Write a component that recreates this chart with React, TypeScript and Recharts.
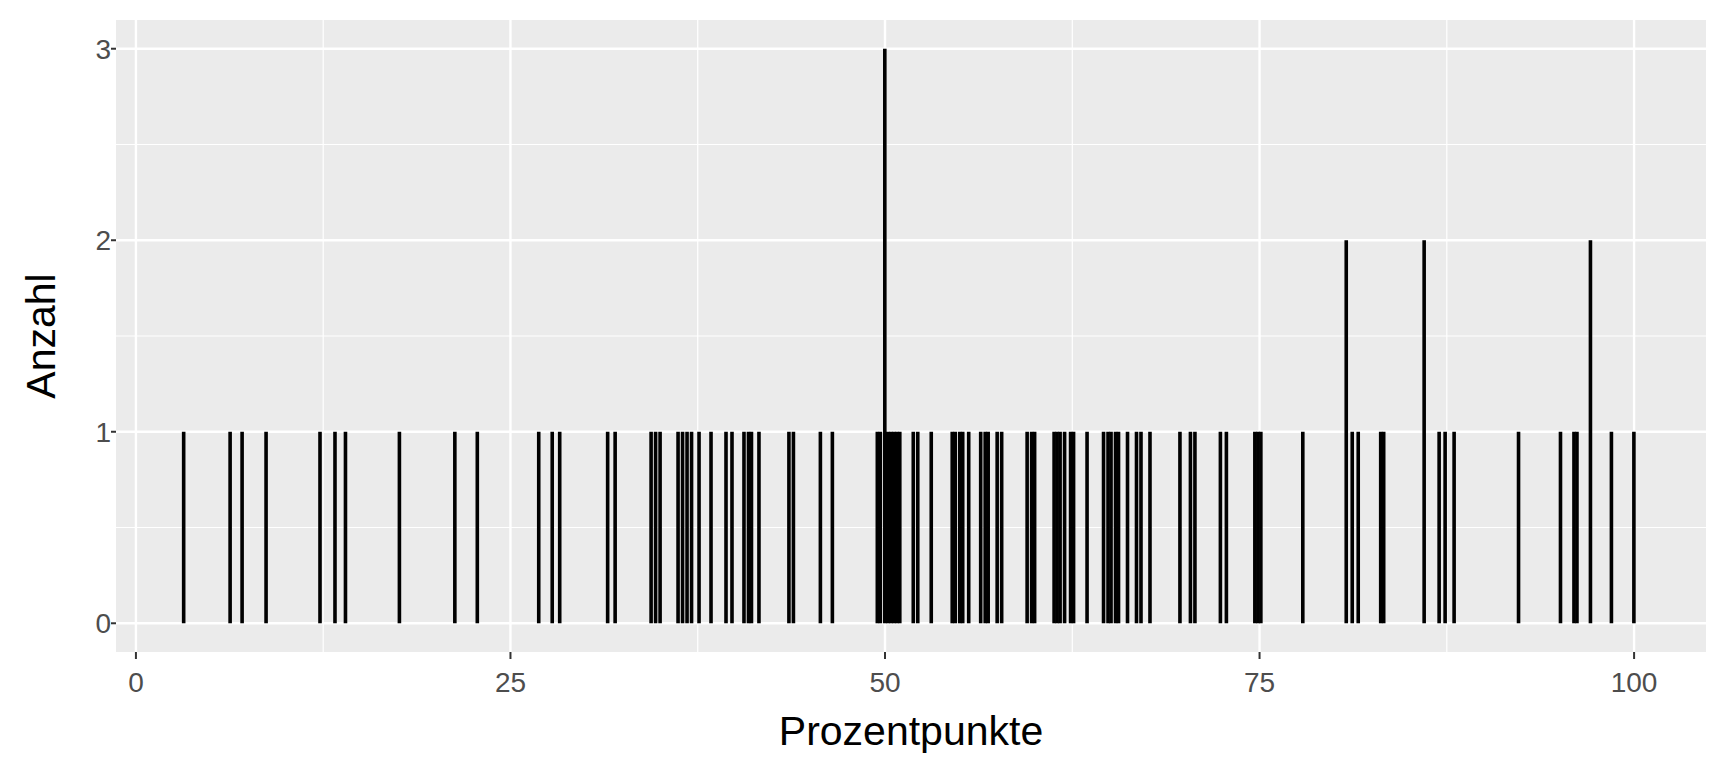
import React from "react";
import { BarChart, Bar, XAxis, YAxis, CartesianGrid } from "recharts";

// x positions (Prozentpunkte), with their counts
const positions = [
  3.2, 6.3, 7.1, 8.7, 12.3, 13.3, 14.0, 17.6, 21.3, 22.8, 26.9, 27.8, 28.3,
  31.5, 32.0, 34.4, 34.7, 35.0, 36.2, 36.5, 36.8, 37.1, 37.6, 38.4, 39.4,
  39.8, 40.6, 40.9, 41.1, 41.6, 43.6, 43.9, 45.7, 46.5, 49.5, 49.7, 50.0,
  50.2, 50.4, 50.6, 50.8, 51.0, 51.9, 52.2, 53.1, 54.5, 54.7, 55.0, 55.2,
  55.6, 56.4, 56.7, 56.9, 57.5, 57.8, 59.5, 59.8, 60.0, 61.3, 61.5, 61.7,
  62.0, 62.4, 62.6, 63.5, 64.6, 64.9, 65.1, 65.4, 65.6, 66.2, 66.8, 67.1,
  67.7, 69.7, 70.4, 70.7, 72.4, 72.8, 74.7, 74.9, 75.1, 77.9, 80.8, 81.2,
  81.6, 83.1, 83.3, 86.0, 87.0, 87.4, 88.0, 92.3, 95.1, 96.0, 96.2, 97.1,
  98.5, 100.0,
];
const counts = [
  1, 1, 1, 1, 1, 1, 1, 1, 1, 1, 1, 1, 1,
  1, 1, 1, 1, 1, 1, 1, 1, 1, 1, 1, 1,
  1, 1, 1, 1, 1, 1, 1, 1, 1, 1, 1, 3,
  1, 1, 1, 1, 1, 1, 1, 1, 1, 1, 1, 1,
  1, 1, 1, 1, 1, 1, 1, 1, 1, 1, 1, 1,
  1, 1, 1, 1, 1, 1, 1, 1, 1, 1, 1, 1,
  1, 1, 1, 1, 1, 1, 1, 1, 1, 1, 2, 1,
  1, 1, 1, 2, 1, 1, 1, 1, 1, 1, 1, 2,
  1, 1,
];

const xTicks = [0, 25, 50, 75, 100];
const xMinor = [12.5, 37.5, 62.5, 87.5];
const yTicks = [0, 1, 2, 3];
const yMinor = [0.5, 1.5, 2.5];

const data = positions.map((x, i) => ({ x, n: counts[i] }));

const font = '"Liberation Sans", Arial, Helvetica, sans-serif';
const tickStyle = { fontSize: 28, fill: "#4D4D4D", fontFamily: font };
const titleStyle = { fontSize: 41, fill: "#000", fontFamily: font };

// thin spike centred on the bar's slot, a fixed width like geom_linerange
const Spike = (props: any) => {
  const { x, y, width, height } = props;
  const w = 3.6;
  const cx = x + width / 2;
  return <rect x={cx - w / 2} y={y} width={w} height={height} fill="#000000" />;
};

export default function App() {
  return (
    <div style={{ width: 1712, height: 761 }}>
      <BarChart
        width={1712}
        height={761}
        data={data}
        margin={{ top: 12, right: 14, left: 0, bottom: 0 }}
      >
        <CartesianGrid
          fill="#EBEBEB"
          fillOpacity={1}
          stroke="#FFFFFF"
          strokeWidth={1.2}
          horizontalValues={yMinor}
          verticalValues={xMinor}
        />
        <CartesianGrid
          stroke="#FFFFFF"
          strokeWidth={2.4}
          horizontalValues={yTicks}
          verticalValues={xTicks}
        />
        <XAxis
          dataKey="x"
          type="number"
          domain={[-1.33, 104.8]}
          ticks={xTicks}
          allowDataOverflow
          height={117}
          axisLine={false}
          tickLine={{ stroke: "#333333", strokeWidth: 2 }}
          tickSize={7}
          tick={tickStyle}
          tickMargin={13}
          label={{
            value: "Prozentpunkte",
            position: "insideBottom",
            offset: 24,
            style: titleStyle,
          }}
        />
        <YAxis
          type="number"
          domain={[-0.15, 3.15]}
          ticks={yTicks}
          allowDataOverflow
          width={108}
          axisLine={false}
          tickLine={{ stroke: "#333333", strokeWidth: 2 }}
          tickSize={5}
          tick={tickStyle}
          tickMargin={0}
          label={{
            value: "Anzahl",
            angle: -90,
            position: "insideLeft",
            offset: 32,
            style: { ...titleStyle, textAnchor: "middle" },
          }}
        />
        <Bar dataKey="n" fill="#000000" shape={Spike} isAnimationActive={false} />
      </BarChart>
    </div>
  );
}
